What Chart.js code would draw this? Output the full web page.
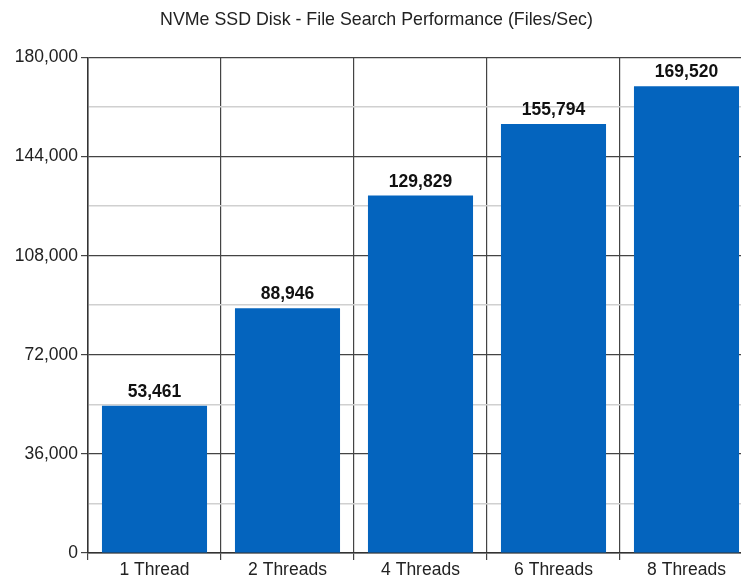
<!DOCTYPE html>
<html><head><meta charset="utf-8">
<script src="https://cdn.jsdelivr.net/npm/chart.js@4/dist/chart.umd.min.js"></script>
<style>html,body{margin:0;padding:0;overflow:hidden;background:#fff;width:741px;height:576px}#wrap{width:760px;height:576px}</style>
</head><body><div id="wrap"><canvas id="c" width="760" height="576"></canvas></div>
<script>
const categories = ["1 Thread", "2 Threads", "4 Threads", "6 Threads", "8 Threads"];
const filesPerSec = [53461, 88946, 129829, 155794, 169520];
const yMax = 180000;
const yMajorStep = 36000;
const yMinorStep = 18000;
const titleText = "NVMe SSD Disk - File Search Performance (Files/Sec)";

const fmt = v => v.toLocaleString('en-US');
const FONT = '"Liberation Sans", Arial, sans-serif';

const valueLabels = {
  id: 'valueLabels',
  afterDatasetsDraw(chart) {
    const ctx = chart.ctx;
    const meta = chart.getDatasetMeta(0);
    ctx.save();
    ctx.font = 'bold 17.5px ' + FONT;
    ctx.fillStyle = '#111';
    ctx.textAlign = 'center';
    ctx.textBaseline = 'alphabetic';
    meta.data.forEach((bar, i) => {
      ctx.fillText(fmt(filesPerSec[i]), bar.x, bar.y - 9);
    });
    ctx.restore();
  }
};

new Chart(document.getElementById('c'), {
  type: 'bar',
  data: {
    labels: categories,
    datasets: [{
      data: filesPerSec,
      backgroundColor: '#0464BE',
      borderWidth: 0,
      categoryPercentage: 1.0,
      barPercentage: 0.79
    }]
  },
  options: {
    responsive: false,
    animation: false,
    devicePixelRatio: 1,
    layout: { padding: { left: 0, right: 7, top: 0, bottom: 0 } },
    plugins: {
      legend: { display: false },
      tooltip: { enabled: false },
      title: {
        display: true,
        text: titleText,
        color: '#222',
        font: { family: FONT, size: 17.8, weight: 'normal', lineHeight: 1.15 },
        padding: { top: 10, bottom: 27 }
      }
    },
    scales: {
      x: {
        grid: { offset: true, color: '#444', lineWidth: 1.2, tickLength: 7, tickColor: '#444' },
        border: { color: '#333', width: 1.5 },
        ticks: { color: '#222', font: { family: FONT, size: 17.5 }, padding: 0 },
        afterFit(s) { s.height = 23; }
      },
      y: {
        min: 0, max: yMax,
        grid: {
          color: c => (c.tick && c.tick.value % yMajorStep === 0) ? '#444' : '#d0d0d0',
          lineWidth: c => (c.tick && c.tick.value % yMajorStep === 0) ? 1.2 : 1.5,
          tickLength: 7,
          tickColor: c => (c.tick && c.tick.value % yMajorStep === 0) ? '#444' : 'rgba(0,0,0,0)'
        },
        border: { color: '#333', width: 1.5 },
        ticks: {
          stepSize: yMinorStep,
          color: '#222',
          font: { family: FONT, size: 17.5 },
          padding: 3,
          autoSkip: false,
          callback: v => (v % yMajorStep === 0) ? fmt(v) : ''
        },
        afterFit(s) { s.width = 88; }
      }
    }
  },
  plugins: [valueLabels]
});
</script>
</body></html>
